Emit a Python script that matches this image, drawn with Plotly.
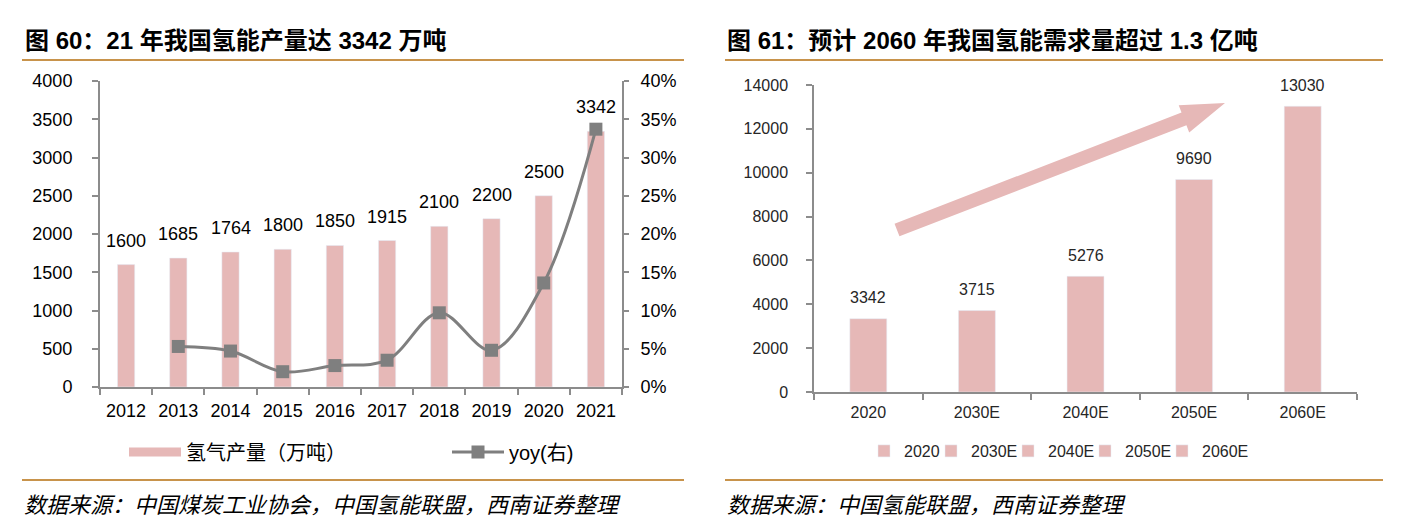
import plotly.graph_objects as go

W, H = 1405, 521
OX, OY = 8, 8  # page body margin of the browser

# ---------------- data ----------------
years = ["2012", "2013", "2014", "2015", "2016", "2017", "2018", "2019", "2020", "2021"]
production = [1600, 1685, 1764, 1800, 1850, 1915, 2100, 2200, 2500, 3342]
yoy_years = ["2013", "2014", "2015", "2016", "2017", "2018", "2019", "2020", "2021"]
yoy = [0.053, 0.047, 0.020, 0.028, 0.035, 0.097, 0.048, 0.136, 0.337]

demand_cats = ["2020", "2030E", "2040E", "2050E", "2060E"]
demand = [3342, 3715, 5276, 9690, 13030]

title_left = "图 60：21 年我国氢能产量达 3342 万吨"
title_right = "图 61：预计 2060 年我国氢能需求量超过 1.3 亿吨"
source_left = "数据来源：中国煤炭工业协会，中国氢能联盟，西南证券整理"
source_right = "数据来源：中国氢能联盟，西南证券整理"
bar_name = "氢气产量（万吨）"
line_name = "yoy(右)"

# ---------------- style ----------------
PINK = "#E6B8B7"
GRAY = "#7F7F7F"
GOLD = "#C8934B"
AXIS = "#8C8C8C"
FONT = "Liberation Sans, Noto Sans CJK SC, sans-serif"
CJK = "Noto Sans CJK SC, sans-serif"


def px(x):
    return (x - OX) / W


def py(y):
    return 1 - (y - OY) / H


fig = go.Figure()

# left chart bars
fig.add_trace(go.Bar(x=years, y=production, marker_color=PINK, width=0.33,
                     showlegend=False, xaxis="x", yaxis="y", hoverinfo="skip"))
# legend proxy for bars (wide pink swatch)
fig.add_trace(go.Scatter(x=[None], y=[None], mode="lines", name=bar_name,
                         line=dict(color=PINK, width=9), xaxis="x", yaxis="y",
                         legend="legend"))
# yoy line
fig.add_trace(go.Scatter(x=yoy_years, y=yoy, mode="lines+markers", name=line_name,
                         line=dict(color=GRAY, width=3, shape="spline", smoothing=1.0),
                         marker=dict(symbol="square", size=13, color=GRAY),
                         xaxis="x", yaxis="y2", legend="legend2"))

# right chart bars, one trace per category, each with its own legend box
legend_x0 = [864, 931, 1008, 1085, 1162]
right_legends = {}
for k, (c, v) in enumerate(zip(demand_cats, demand)):
    lname = f"legend{k + 3}"
    fig.add_trace(go.Bar(x=[c], y=[v], name=c, marker_color=PINK, width=0.34,
                         xaxis="x3", yaxis="y3", legend=lname))
    right_legends[lname] = dict(x=px(legend_x0[k]), y=py(451), xanchor="left",
                                yanchor="middle", orientation="h", itemwidth=30,
                                bgcolor="rgba(0,0,0,0)",
                                font=dict(family=FONT, size=16, color="#262626"))

annotations = []
for i, v in enumerate(production):
    annotations.append(dict(x=i, y=v, xref="x", yref="y", text=str(v), showarrow=False,
                            yshift=24, yanchor="middle",
                            font=dict(family=FONT, size=18, color="#000")))
for i, v in enumerate(demand):
    annotations.append(dict(x=i, y=v, xref="x3", yref="y3", text=str(v), showarrow=False,
                            yshift=21, yanchor="middle",
                            font=dict(family=FONT, size=16, color="#262626")))

annotations += [
    dict(x=px(23), y=py(40), xref="paper", yref="paper", xanchor="left", yanchor="middle",
         text=title_left, showarrow=False,
         font=dict(family=FONT, size=24, color="#000", weight="bold")),
    dict(x=px(725), y=py(40), xref="paper", yref="paper", xanchor="left", yanchor="middle",
         text=title_right, showarrow=False,
         font=dict(family=FONT, size=24, color="#000", weight="bold")),
    dict(x=px(22), y=py(503), xref="paper", yref="paper", xanchor="left", yanchor="middle",
         text=source_left, showarrow=False,
         font=dict(family=CJK, size=22, color="#000", style="italic")),
    dict(x=px(725), y=py(503), xref="paper", yref="paper", xanchor="left", yanchor="middle",
         text=source_right, showarrow=False,
         font=dict(family=CJK, size=22, color="#000", style="italic")),
]

shapes = []
for (x0, x1) in [(22, 684), (725, 1383)]:
    for yy in (60, 480):
        shapes.append(dict(type="line", xref="paper", yref="paper",
                           x0=px(x0), x1=px(x1), y0=py(yy), y1=py(yy),
                           line=dict(color=GOLD, width=2)))

# decorative trend arrow (pixel geometry -> paper)
sx, sy = 897, 230      # tail centre
tx, ty = 1225, 103     # tip
half_shaft, half_head, head_len = 6.8, 14.5, 44
dx, dy = tx - sx, ty - sy
L = (dx * dx + dy * dy) ** 0.5
ux, uy = dx / L, dy / L
nx, ny = -uy, ux
bx, by = tx - ux * head_len, ty - uy * head_len
pts = [
    (sx + nx * half_shaft, sy + ny * half_shaft),
    (bx + nx * half_shaft, by + ny * half_shaft),
    (bx + nx * half_head, by + ny * half_head),
    (tx, ty),
    (bx - nx * half_head, by - ny * half_head),
    (bx - nx * half_shaft, by - ny * half_shaft),
    (sx - nx * half_shaft, sy - ny * half_shaft),
]
path = "M " + " L ".join(f"{px(a):.5f},{py(b):.5f}" for a, b in pts) + " Z"
shapes.append(dict(type="path", xref="paper", yref="paper", path=path,
                   fillcolor=PINK, line=dict(width=0), layer="above"))

tickfont_l = dict(family=FONT, size=18, color="#000")
tickfont_r = dict(family=FONT, size=16, color="#262626")

fig.update_layout(
    width=W, height=H,
    margin=dict(l=0, r=0, t=0, b=0, autoexpand=False),
    paper_bgcolor="white", plot_bgcolor="white",
    barmode="overlay",
    showlegend=True,
    font=dict(family=FONT),
    xaxis=dict(domain=[px(100), px(622)], anchor="y", type="category",
               range=[-0.5, 9.5], showline=True, linecolor=AXIS, linewidth=2,
               ticks="outside", tickson="boundaries", ticklen=6, tickwidth=2,
               tickcolor=AXIS, tickfont=tickfont_l, showgrid=False, zeroline=False,
               ticklabelstandoff=6, automargin=False),
    yaxis=dict(domain=[py(387), py(81)], anchor="x", range=[0, 4000], dtick=500,
               showline=True, linecolor=AXIS, linewidth=2, ticks="outside", ticklen=6,
               tickwidth=2, tickcolor=AXIS, tickfont=tickfont_l, showgrid=False,
               zeroline=False, ticklabelstandoff=16, automargin=False),
    yaxis2=dict(overlaying="y", side="right", anchor="x", range=[0, 0.4], dtick=0.05,
                tickformat=".0%", showline=True, linecolor=AXIS, linewidth=2,
                ticks="outside", ticklen=5, tickwidth=2, tickcolor=AXIS,
                tickfont=tickfont_l, showgrid=False, zeroline=False,
                ticklabelstandoff=8, automargin=False),
    xaxis3=dict(domain=[px(814), px(1357)], anchor="y3", type="category",
                range=[-0.5, 4.5], showline=True, linecolor=AXIS, linewidth=1.5,
                ticks="outside", tickson="boundaries", ticklen=6, tickwidth=1.5,
                tickcolor=AXIS, tickfont=tickfont_r, showgrid=False, zeroline=False,
                ticklabelstandoff=5, automargin=False),
    yaxis3=dict(domain=[py(392), py(85)], anchor="x3", range=[0, 14000], dtick=2000,
                tickformat="d",
                showline=True, linecolor=AXIS, linewidth=1.5, ticks="outside",
                ticklen=6, tickwidth=1.5, tickcolor=AXIS, tickfont=tickfont_r,
                showgrid=False, zeroline=False, ticklabelstandoff=15, automargin=False),
    legend=dict(x=px(124), y=py(452), xanchor="left", yanchor="middle",
                orientation="h", itemwidth=52, bgcolor="rgba(0,0,0,0)",
                font=dict(family=CJK, size=20, color="#000")),
    legend2=dict(x=px(447), y=py(452), xanchor="left", yanchor="middle",
                 orientation="h", itemwidth=52, bgcolor="rgba(0,0,0,0)",
                 font=dict(family=FONT, size=20, color="#000")),
    annotations=annotations,
    shapes=shapes,
)
fig.update_layout(**right_legends)

fig.write_html("out.html")
